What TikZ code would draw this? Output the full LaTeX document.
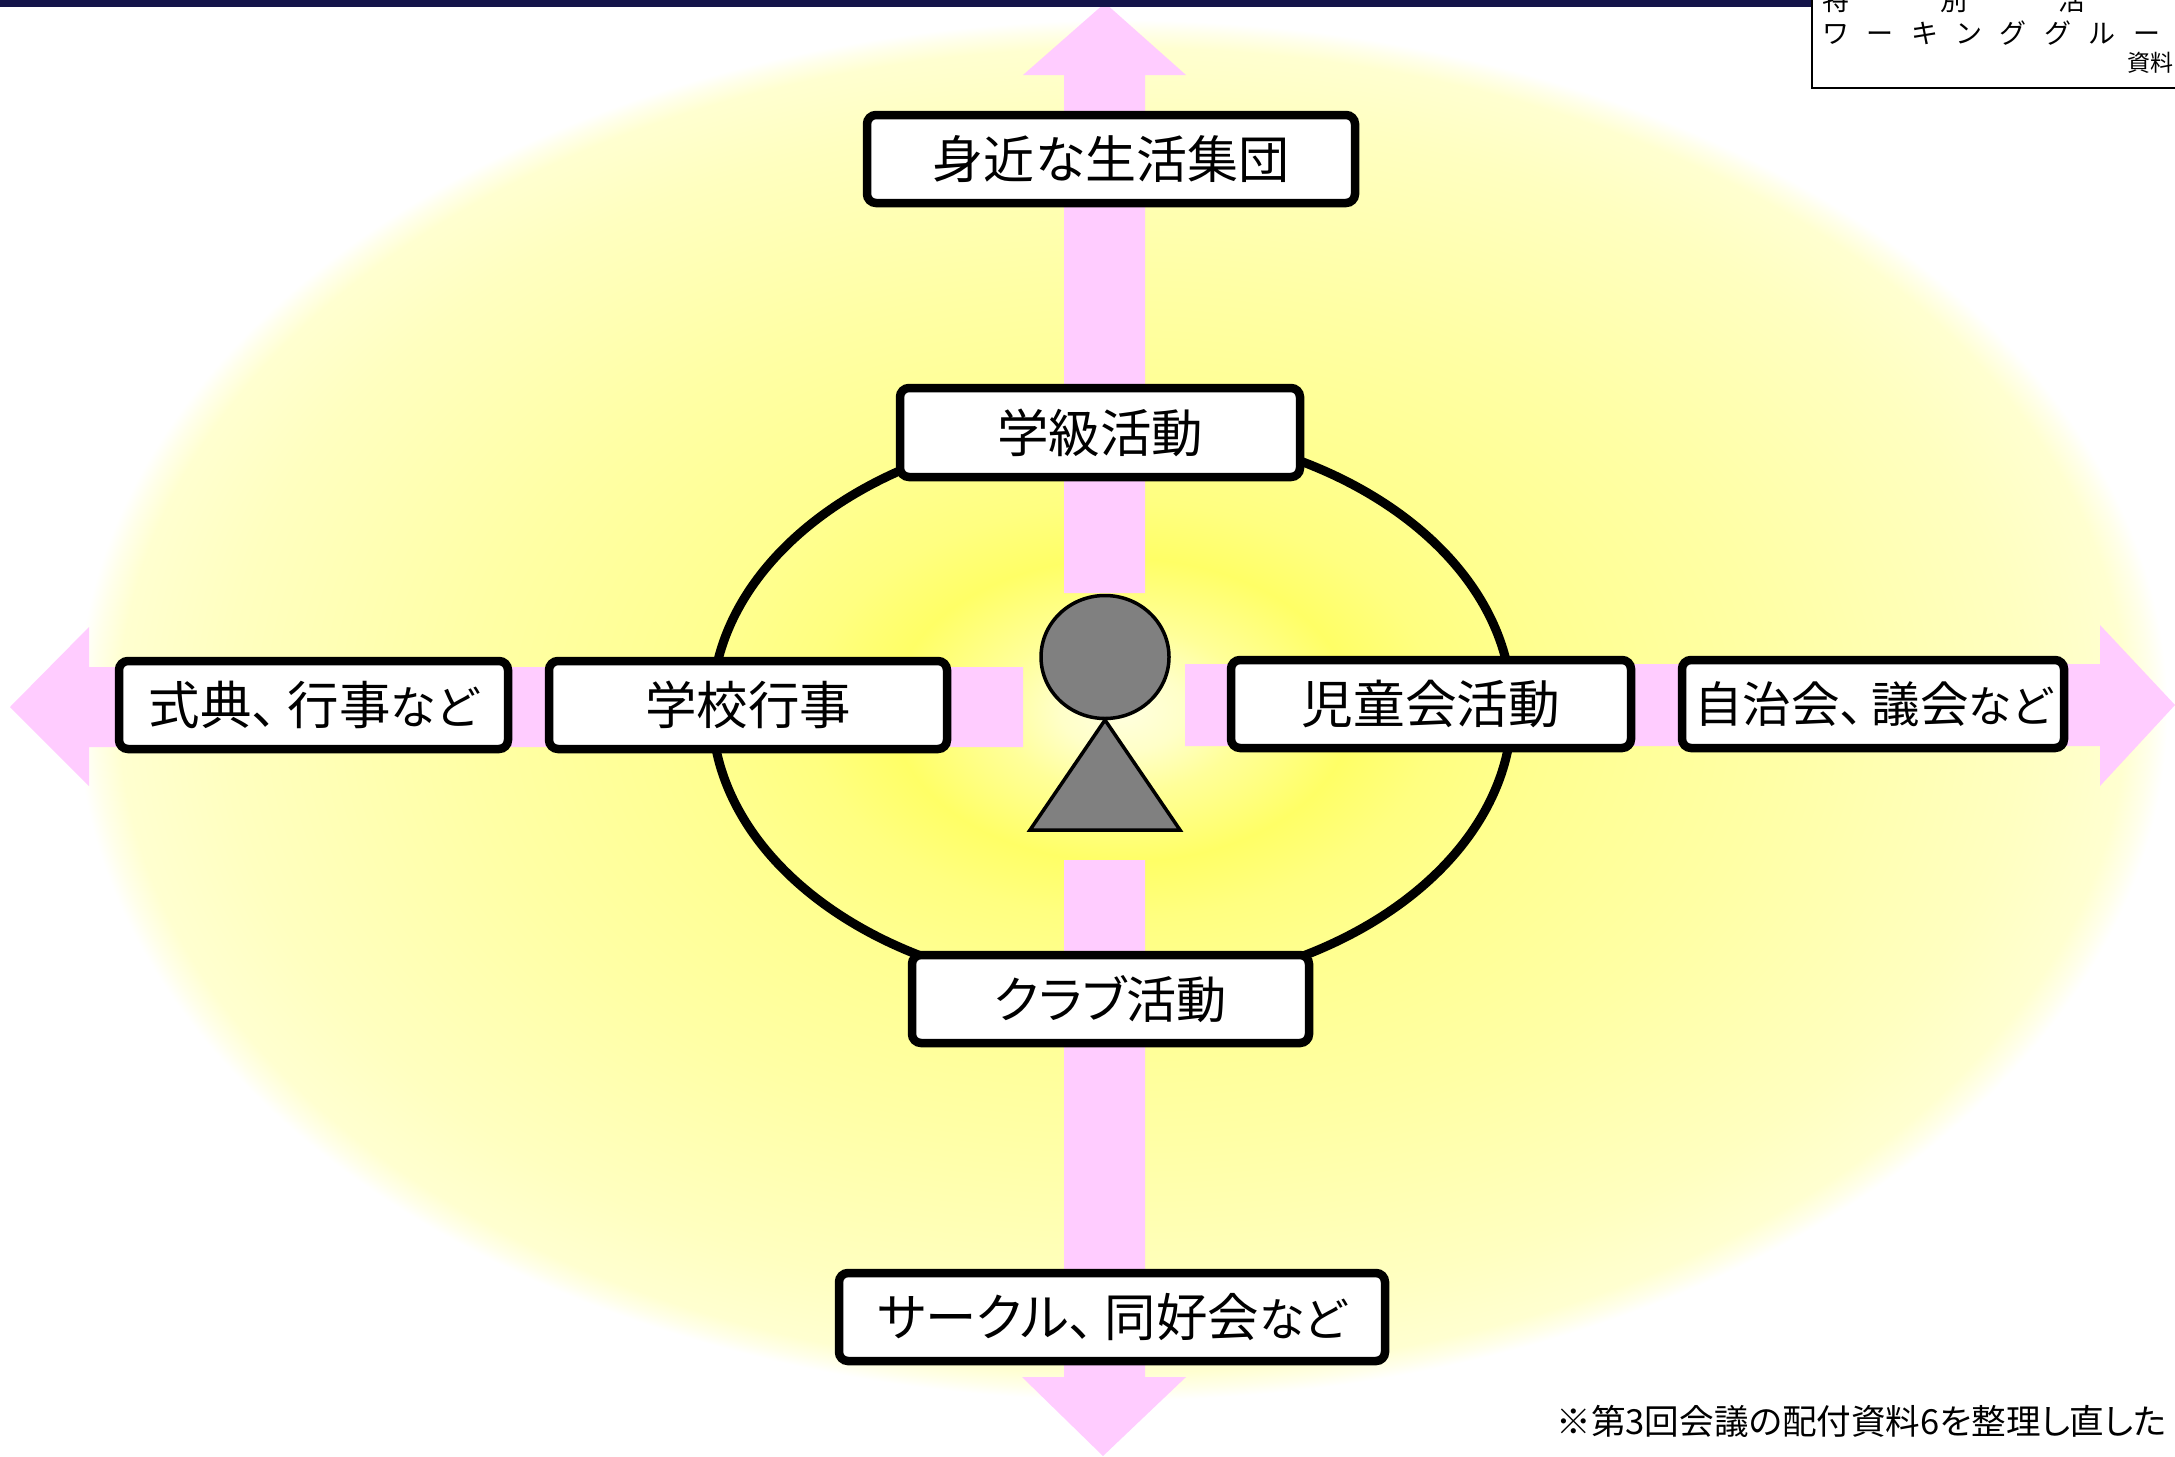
\documentclass[tikz,border=0pt]{standalone}
\usepackage{fontspec}
\newfontfamily\jp[RawFeature=+palt]{Noto Sans CJK JP}
\newfontfamily\jpw{Noto Sans CJK JP}
\definecolor{pinkarrow}{HTML}{FFCCFF}
\definecolor{navybar}{HTML}{14144A}
\definecolor{figgray}{HTML}{808080}
\definecolor{ga}{HTML}{FFFFE0}
\definecolor{gb}{HTML}{FFFFC8}
\definecolor{gc}{HTML}{FFFF99}
\definecolor{gd}{HTML}{FFFF66}
\definecolor{ge}{HTML}{FFFF80}
\definecolor{gf}{HTML}{FFFF90}
\definecolor{gg}{HTML}{FFFFA5}
\definecolor{gh}{HTML}{FFFFC0}
\definecolor{gi}{HTML}{FFFFD0}
\definecolor{gj}{HTML}{FFFFEA}
\definecolor{gk}{HTML}{FFFFFF}
\pgfdeclareradialshading{glow}{\pgfpoint{0bp}{0bp}}{
 color(0bp)=(ga);
 color(1.5bp)=(gb);
 color(3bp)=(gc);
 color(5.5bp)=(gd);
 color(7.5bp)=(ge);
 color(10bp)=(gf);
 color(15.5bp)=(gg);
 color(21.5bp)=(gh);
 color(24bp)=(gi);
 color(24.6bp)=(gj);
 color(25bp)=(gk);
 color(50bp)=(gk)}
\newcommand\lbl[2]{\fontsize{#1}{#1}\selectfont\lower1.5pt\hbox{#2}}
\newcommand\nado[1]{{\fontsize{#1}{#1}\selectfont など}}
\tikzset{
 labelbox/.style={draw=black,fill=white,line width=8.5pt,rounded corners=9pt,inner sep=0pt,font=\jp,text=black},
 arrowshape/.style={fill=pinkarrow,draw=none},
 figshape/.style={fill=figgray,draw=black,line width=3.5pt},
 ringline/.style={draw=black,line width=9pt},
 cornertext/.style={font=\jpw\fontsize{27}{27}\selectfont,inner sep=0pt,anchor=base west}
}
\begin{document}
\begin{tikzpicture}[x=1pt,y=-1pt]
\useasboundingbox (0,0) rectangle (2175,1456);
\clip (0,0) rectangle (2175,1456);
\fill[white] (0,0) rectangle (2175,1456);
\shade[shading=glow] (1122,710) ellipse [x radius=1045pt,y radius=690pt];
% arrows
\fill[arrowshape] (1105,3) -- (1186,75) -- (1145,75) -- (1145,593) -- (1064,593) -- (1064,75) -- (1023,75) -- cycle;
\fill[arrowshape] (1103,1456) -- (1186,1377) -- (1145,1377) -- (1145,860) -- (1064,860) -- (1064,1377) -- (1022,1377) -- cycle;
\fill[arrowshape] (10,707) -- (89,627) -- (89,667) -- (1023,667) -- (1023,747) -- (89,747) -- (89,786) -- cycle;
\fill[arrowshape] (2175,705) -- (2100,625) -- (2100,664) -- (1185,664) -- (1185,746) -- (2100,746) -- (2100,786) -- cycle;
% ring
\draw[ringline] (1112,709) ellipse [x radius=400pt,y radius=281pt];
% figure
\filldraw[figshape] (1105,720) -- (1180,830) -- (1030,830) -- cycle;
\filldraw[figshape] (1105,657) ellipse [x radius=64pt,y radius=61.5pt];
% boxes
\node[labelbox,minimum width=488pt,minimum height=88pt] (group) at (1111,159) {\lbl{51}{身近な生活集団}};
\node[labelbox,minimum width=400pt,minimum height=89pt] (klass) at (1100,432.5) {\lbl{51.5}{学級活動}};
\node[labelbox,minimum width=389pt,minimum height=88pt] (shiki) at (313.5,705) {\lbl{51.5}{式典、\kern10pt 行事\nado{46}}};
\node[labelbox,minimum width=398pt,minimum height=88pt] (gakko) at (748,705) {\lbl{51.5}{学校行事}};
\node[labelbox,minimum width=400pt,minimum height=88pt] (jido) at (1431,704) {\lbl{51.7}{児童会活動}};
\node[labelbox,minimum width=382pt,minimum height=88pt] (jichi) at (1873,704) {\lbl{48.5}{自治会、\kern8pt 議会\nado{43.5}}};
\node[labelbox,minimum width=397pt,minimum height=88pt] (club) at (1110.5,999) {\lbl{50.2}{クラブ活動}};
\node[labelbox,minimum width=546pt,minimum height=88pt] (circle) at (1112,1317) {\lbl{51.4}{サークル、\kern10pt 同好会\nado{46}}};
% top bar and corner note
\fill[navybar] (0,0) rectangle (1812,7);
\draw[black,line width=2.2pt] (1812,-5) -- (1812,88) -- (2185,88);
\node[cornertext] (w1) at (1822,10) {特\hskip91pt別\hskip91pt活};
\node[cornertext] (w2) at (1822,43) {ワ\hskip17.4ptー\hskip17.4ptキ\hskip17.4ptン\hskip17.4ptグ\hskip17.4ptグ\hskip17.4ptル\hskip17.4ptー};
\node[cornertext,font=\jpw\fontsize{23}{23}\selectfont] (w3) at (2127,71) {資料};
\node[inner sep=0pt,anchor=east,font=\jp\fontsize{34.6}{34.6}\selectfont] (note) at (2167,1421) {※第3回会議の配付資料6を整理し直した};
\end{tikzpicture}
\end{document}
